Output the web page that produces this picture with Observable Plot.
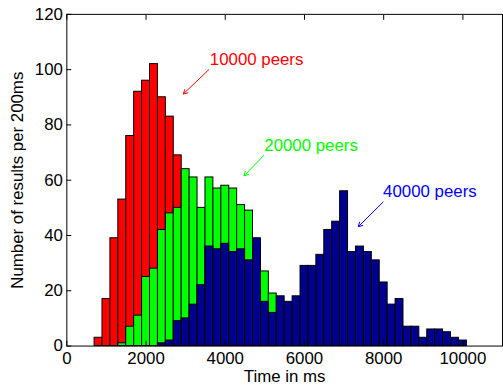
<!DOCTYPE html>
<html>
<head>
<meta charset="utf-8">
<script src="https://cdn.jsdelivr.net/npm/d3@7"></script>
<script src="https://cdn.jsdelivr.net/npm/@observablehq/plot@0.6"></script>
<style>
  html, body { margin: 0; padding: 0; background: #fff; overflow: hidden; }
  #chart svg { display: block; }
</style>
</head>
<body>
<div id="chart"></div>
<script>
// Histogram bins are 200 ms wide; each value is the count for the bin centred at that time.
const binWidth = 200;

const centers10000 = [800, 1000, 1200, 1400, 1600, 1800, 2000, 2200, 2400, 2600, 2800];
const counts10000  = [3, 17, 39, 53, 76, 92, 96, 102, 90, 83, 69];

const centers20000 = [1400, 1600, 1800, 2000, 2200, 2400, 2600, 2800, 3000, 3200, 3400, 3600,
                      3800, 4000, 4200, 4400, 4600, 4800, 5000, 5200];
const counts20000  = [1, 7, 11, 25, 28, 42, 48, 50, 64, 61, 50, 61,
                      57, 58, 57, 51, 49, 37, 27, 19];

const centers40000 = [2400, 2600, 2800, 3000, 3200, 3400, 3600, 3800, 4000, 4200, 4400, 4600,
                      4800, 5000, 5200, 5400, 5600, 5800, 6000, 6200, 6400, 6600, 6800, 7000,
                      7200, 7400, 7600, 7800, 8000, 8200, 8400, 8600, 8800, 9000, 9200, 9400,
                      9600, 9800, 10000];
const counts40000  = [1, 2, 9, 10, 15, 22, 36, 35, 37, 34, 35, 31,
                      39, 16, 12, 18, 16, 18, 29, 29, 33, 42, 45, 56,
                      34, 36, 34, 31, 23, 15, 17, 7, 7, 3, 6, 6,
                      5, 3, 2];

const xTicks = [0, 2000, 4000, 6000, 8000, 10000];
const yTicks = [0, 20, 40, 60, 80, 100, 120];
const xLabel = "Time in ms";
const yLabel = "Number of results per 200ms";

// Annotation labels and their arrows (time, count)
const noteLabels = ["10000 peers", "20000 peers", "40000 peers"];
const noteColors = ["#ff0000", "#00ff00", "#0000ff"];
const noteTextX  = [3610, 4985, 7985];
const noteTextY  = [103.8, 72.6, 56];
const arrowFromX = [3585, 4975, 7985];
const arrowFromY = [100, 69, 52.1];
const arrowToX   = [2943, 4475, 7360];
const arrowToY   = [91.2, 61.6, 43.2];

const toBins = (centers, counts) => centers.map((c, i) => ({
  x1: c - binWidth / 2, x2: c + binWidth / 2, n: counts[i]
}));

const notes = noteLabels.map((label, i) => ({
  label, color: noteColors[i],
  tx: noteTextX[i], ty: noteTextY[i],
  x1: arrowFromX[i], y1: arrowFromY[i], x2: arrowToX[i], y2: arrowToY[i]
}));

const barStyle = {x1: "x1", x2: "x2", y: "n", stroke: "#000", strokeWidth: 1};

const chart = Plot.plot({
  width: 508,
  height: 390,
  marginLeft: 67,
  marginRight: 1,
  marginTop: 14,
  marginBottom: 41,
  style: {fontFamily: "'Liberation Sans', Arial, Helvetica, sans-serif", fontSize: "17px", background: "#fff", color: "#000"},
  x: {domain: [0, 11000]},
  y: {domain: [0, 120]},
  marks: [
    Plot.rectY(toBins(centers10000, counts10000), {...barStyle, fill: "#ff0000"}),
    Plot.rectY(toBins(centers20000, counts20000), {...barStyle, fill: "#00ff00"}),
    Plot.rectY(toBins(centers40000, counts40000), {...barStyle, fill: "#00008f"}),
    Plot.frame({stroke: "#000", strokeWidth: 1}),
    Plot.axisX({ticks: xTicks, tickSize: -5, tickPadding: 11, tickFormat: d => String(d), label: null}),
    Plot.axisX({anchor: "top", ticks: xTicks, tickSize: -5, tickFormat: () => "", label: null}),
    Plot.axisY({ticks: yTicks, tickSize: -5, tickPadding: 9, tickFormat: d => String(d),
                label: yLabel, labelAnchor: "center", labelArrow: "none", labelOffset: 56}),
    Plot.text([xLabel], {frameAnchor: "bottom", dy: 31, lineAnchor: "middle", fontSize: 17, fill: "#000"}),
    Plot.arrow(notes, {x1: "x1", y1: "y1", x2: "x2", y2: "y2", stroke: "color",
                       strokeWidth: 1, headLength: 7, inset: 0}),
    Plot.text(notes, {x: "tx", y: "ty", text: "label", fill: "color", textAnchor: "start",
                      lineAnchor: "middle", fontSize: 17})
  ]
});

document.getElementById("chart").appendChild(chart);
</script>
</body>
</html>
